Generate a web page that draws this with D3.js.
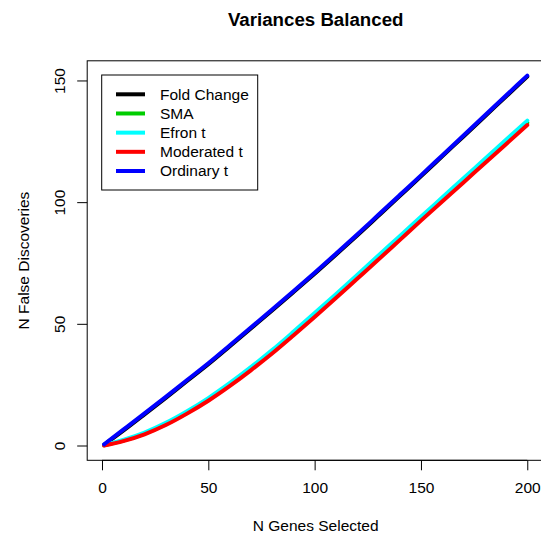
<!DOCTYPE html>
<html>
<head>
<meta charset="utf-8">
<script src="https://cdn.jsdelivr.net/npm/d3@7"></script>
<style>
  html, body { margin: 0; padding: 0; background: #fff; }
  svg text { font-family: "Liberation Sans", Arial, Helvetica, sans-serif; }
</style>
</head>
<body>
<svg id="chart" width="541" height="535"></svg>
<script>
// ---- data ----
const genes = [1, 10, 20, 30, 40, 50, 60, 70, 80, 90, 100, 110, 120, 130, 140, 150, 160, 170, 180, 190, 200];
const foldChange = [0.3, 6.1, 12.8, 19.6, 26.5, 33.4, 40.7, 48.1, 55.5, 63.0, 70.6, 78.4, 86.3, 94.4, 102.5, 110.6, 118.8, 127.0, 135.2, 143.4, 151.6];
const sma        = [0.1, 2.0, 4.9, 8.8, 13.6, 18.9, 25.0, 31.5, 38.5, 45.9, 53.6, 61.4, 69.3, 77.2, 85.2, 93.2, 101.1, 108.9, 116.8, 124.7, 132.6];
const efronT     = [0.3, 2.3, 5.3, 9.3, 14.1, 19.5, 25.6, 32.2, 39.2, 46.7, 54.4, 62.2, 70.1, 78.1, 86.0, 94.0, 101.9, 109.8, 117.7, 125.6, 133.5];
const moderatedT = [0.0, 1.8, 4.6, 8.4, 13.1, 18.4, 24.4, 30.9, 37.8, 45.2, 52.8, 60.6, 68.5, 76.4, 84.4, 92.4, 100.3, 108.1, 116.0, 123.8, 131.7];
const ordinaryT  = [0.5, 6.5, 13.2, 20.0, 26.9, 33.8, 41.1, 48.5, 55.9, 63.4, 71.0, 78.8, 86.7, 94.8, 102.9, 111.0, 119.2, 127.4, 135.6, 143.8, 152.0];
const seriesNames = ["Fold Change", "SMA", "Efron t", "Moderated t", "Ordinary t"];
const seriesColors = ["#000000", "#00CD00", "#00FFFF", "#FF0000", "#0000FF"];
const xTicks = [0, 50, 100, 150, 200];
const yTicks = [0, 50, 100, 150];
const title = "Variances Balanced";
const xLabel = "N Genes Selected";
const yLabel = "N False Discoveries";

const seriesValues = [foldChange, sma, efronT, moderatedT, ordinaryT];

// ---- layout ----
const svg = d3.select("#chart");
const plotL = 87.2, plotR = 544.2, plotT = 60.8, plotB = 460.3;
const baseFont = 15.5;

function padExtent(ext) {
  const d = (ext[1] - ext[0]) * 0.04;
  return [ext[0] - d, ext[1] + d];
}
const xExt = d3.extent(genes);
const yExt = d3.extent(seriesValues.flat());
const x = d3.scaleLinear().domain(padExtent(xExt)).range([plotL, plotR]);
const y = d3.scaleLinear().domain(padExtent([0, d3.max(yExt)])).range([plotB, plotT]);

// plot box
svg.append("rect")
  .attr("x", plotL).attr("y", plotT)
  .attr("width", plotR - plotL).attr("height", plotB - plotT)
  .attr("fill", "none").attr("stroke", "#000").attr("stroke-width", 1);

// x axis
const xAxis = svg.append("g").attr("transform", `translate(0,${plotB})`)
  .call(d3.axisBottom(x).tickValues(xTicks).tickSize(10).tickPadding(12).tickSizeOuter(0))
  .call(g => g.select(".domain").remove());
xAxis.append("line")
  .attr("x1", x(xTicks[0])).attr("x2", x(xTicks[xTicks.length - 1]))
  .attr("stroke", "#000");
xAxis.selectAll(".tick line").attr("stroke", "#000");
xAxis.selectAll(".tick text")
  .attr("font-size", baseFont).attr("fill", "#000")
  .attr("font-family", "Liberation Sans, Arial, sans-serif");

// y axis
const yAxis = svg.append("g").attr("transform", `translate(${plotL},0)`)
  .call(d3.axisLeft(y).tickValues(yTicks).tickSize(10).tickSizeOuter(0))
  .call(g => g.select(".domain").remove());
yAxis.selectAll(".tick line").attr("stroke", "#000");
yAxis.selectAll(".tick text")
  .attr("font-size", baseFont).attr("fill", "#000")
  .attr("font-family", "Liberation Sans, Arial, sans-serif")
  .attr("x", null).attr("dy", null)
  .attr("text-anchor", "middle")
  .attr("transform", "translate(-22,0) rotate(-90)");

// lines
const line = d3.line()
  .x((d, i) => x(genes[i]))
  .y(d => y(d))
  .curve(d3.curveMonotoneX);

seriesValues.forEach((vals, k) => {
  svg.append("path")
    .datum(vals)
    .attr("d", line)
    .attr("fill", "none")
    .attr("stroke", seriesColors[k])
    .attr("stroke-width", 4)
    .attr("stroke-linecap", "round")
    .attr("stroke-linejoin", "round");
});

// title and labels
svg.append("text")
  .attr("x", (plotL + plotR) / 2).attr("y", 26)
  .attr("text-anchor", "middle")
  .attr("font-size", 18.7).attr("font-weight", "bold")
  .text(title);

svg.append("text")
  .attr("x", (plotL + plotR) / 2).attr("y", 531)
  .attr("text-anchor", "middle")
  .attr("font-size", baseFont)
  .text(xLabel);

svg.append("text")
  .attr("transform", `translate(29,${(plotT + plotB) / 2}) rotate(-90)`)
  .attr("text-anchor", "middle")
  .attr("font-size", baseFont)
  .text(yLabel);

// legend
const legX = 101.7, legY = 75, legW = 156, legH = 115;
const leg = svg.append("g");
leg.append("rect")
  .attr("x", legX).attr("y", legY).attr("width", legW).attr("height", legH)
  .attr("fill", "#fff").attr("stroke", "#000").attr("stroke-width", 1);
const rowY = d3.scaleLinear().domain([0, seriesNames.length - 1]).range([94.3, 171]);
seriesNames.forEach((name, k) => {
  leg.append("line")
    .attr("x1", 116).attr("x2", 145)
    .attr("y1", rowY(k)).attr("y2", rowY(k))
    .attr("stroke", seriesColors[k]).attr("stroke-width", 4);
  leg.append("text")
    .attr("x", 160).attr("y", rowY(k))
    .attr("dy", "0.35em")
    .attr("font-size", baseFont)
    .text(name);
});
</script>
</body>
</html>
